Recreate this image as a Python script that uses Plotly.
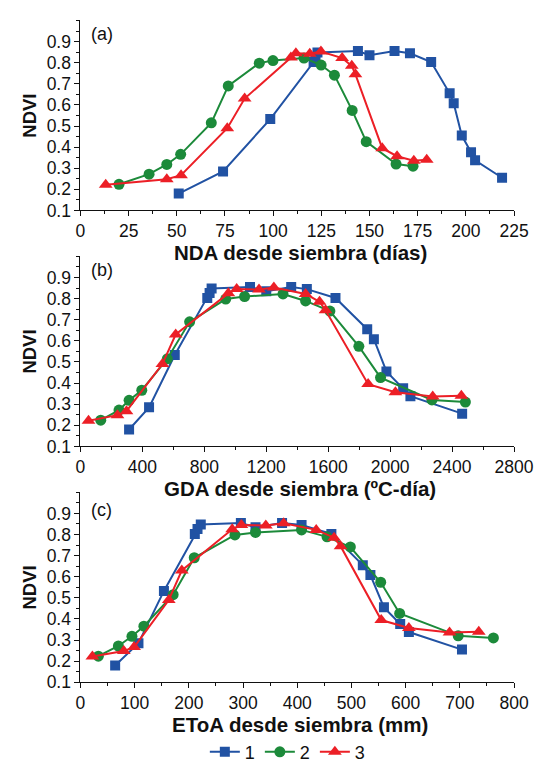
import plotly.graph_objects as go

W, H = 547, 763

# ---------------- data ----------------
series_names = ["1", "2", "3"]
ndvi_1 = [0.18, 0.285, 0.533, 0.803, 0.826, 0.848, 0.855, 0.835, 0.855, 0.845, 0.803, 0.655, 0.608, 0.455, 0.376, 0.338, 0.255]
ndvi_2 = [0.224, 0.272, 0.318, 0.366, 0.515, 0.69, 0.798, 0.81, 0.822, 0.789, 0.741, 0.574, 0.426, 0.32, 0.31]
ndvi_3 = [0.222, 0.248, 0.267, 0.49, 0.63, 0.825, 0.845, 0.843, 0.853, 0.822, 0.785, 0.745, 0.395, 0.357, 0.336, 0.34]

nda_1 = [51, 74, 98.5, 121, 122, 123, 144, 150, 163, 171, 182, 191.6, 193.7, 197.9, 202.7, 204.8, 218.8]
nda_2 = [20, 35.6, 44.8, 52, 67.9, 76.7, 92.8, 99.9, 116, 124.9, 131.8, 141, 148.3, 163.8, 172.6]
nda_3 = [13.1, 44.8, 52.2, 76.2, 85.2, 109.2, 111.8, 119, 124.8, 135.8, 140.8, 142.7, 156.6, 164.3, 173, 179.7]

gda_1 = [314, 443, 609, 819, 834, 847, 1095, 1200, 1361, 1462, 1647, 1852, 1895, 1976, 2084, 2131, 2465]
gda_2 = [131, 249, 314, 396, 561, 705, 938, 1060, 1308, 1454, 1611, 1798, 1938, 2270, 2486]
gda_3 = [52, 239, 297, 529, 615, 955, 1009, 1153, 1249, 1454, 1544, 1583, 1858, 2034, 2275, 2460]

eto_1 = [64, 107, 154, 211, 216, 222, 296, 323, 372, 408, 463, 521, 535, 560, 590, 606, 704]
eto_2 = [33, 70, 95, 117, 171, 210, 285, 323, 408, 455, 498, 554, 589, 697, 762]
eto_3 = [22, 80, 99, 163, 187, 280, 297, 342, 375, 435, 468, 480, 555, 606, 681, 735]

ndvi_ticks = [0.1, 0.2, 0.3, 0.4, 0.5, 0.6, 0.7, 0.8, 0.9]
nda_ticks = [0, 25, 50, 75, 100, 125, 150, 175, 200, 225]
gda_ticks = [0, 400, 800, 1200, 1600, 2000, 2400, 2800]
eto_ticks = [0, 100, 200, 300, 400, 500, 600, 700, 800]

x_titles = ["NDA desde siembra (días)", "GDA desde siembra (ºC-día)", "EToA desde siembra (mm)"]
panel_labels = ["(a)", "(b)", "(c)"]

# ---------------- style ----------------
colors = ["#2152a3", "#1c8a3a", "#ec1f26"]
symbols = ["square", "circle", "triangle-up"]
msizes = [10, 11, 12]
FONT = "Liberation Sans, Arial, sans-serif"

def fy(px):
    return 1 - px / H

def fx(px):
    return px / W

x_dom = [fx(70.7), fx(525)]
# (bottom px of 0.1, top px of 1.0)
y_px = [(206, 12.7), (446, 252.7), (686, 492.7)]

fig = go.Figure()

panels = [
    (nda_1, nda_2, nda_3, nda_ticks, 12.5),
    (gda_1, gda_2, gda_3, gda_ticks, 200),
    (eto_1, eto_2, eto_3, eto_ticks, 50),
]
ys = [ndvi_1, ndvi_2, ndvi_3]

for p, (xa, xb, xc, xt, minor_dt) in enumerate(panels):
    xs = [xa, xb, xc]
    suffix = "" if p == 0 else str(p + 1)
    for s in range(3):
        fig.add_trace(go.Scatter(
            x=xs[s], y=ys[s], mode="lines+markers",
            name=series_names[s],
            line=dict(color=colors[s], width=2),
            marker=dict(symbol=symbols[s], size=msizes[s], color=colors[s]),
            xaxis="x" + suffix, yaxis="y" + suffix,
            showlegend=(p == 2),
        ))
    bot, top = y_px[p]
    fig.layout["xaxis" + suffix] = dict(
        domain=x_dom, anchor="y" + suffix, range=[xt[0], xt[-1]],
        tickvals=xt, ticktext=[str(v) for v in xt],
        showline=True, linecolor="#111", linewidth=1, mirror=False,
        ticks="outside", ticklen=5, tickwidth=1, tickcolor="#111",
        minor=dict(ticks="outside", ticklen=3, dtick=minor_dt, tick0=0, tickcolor="#111"),
        showgrid=False, zeroline=False,
        tickfont=dict(family=FONT, size=17.5, color="#111"),
    )
    fig.layout["yaxis" + suffix] = dict(
        domain=[fy(bot), fy(top)], anchor="x" + suffix, range=[0.1, 1.0],
        tickvals=ndvi_ticks, ticktext=["%.1f" % v for v in ndvi_ticks],
        showline=True, linecolor="#111", linewidth=1,
        ticks="outside", ticklen=5, tickwidth=1, tickcolor="#111",
        minor=dict(ticks="outside", ticklen=3, dtick=0.05, tick0=0.1, tickcolor="#111"),
        showgrid=False, zeroline=False,
        tickfont=dict(family=FONT, size=17.5, color="#111"),
    )
    # axis title (x)
    fig.add_annotation(
        text="<b>%s</b>" % x_titles[p], xref="paper", yref="paper",
        x=fx(301), y=fy(bot + 43), xanchor="center", yanchor="middle",
        showarrow=False, font=dict(family=FONT, size=20.5, color="#111"),
    )
    # axis title (y)
    fig.add_annotation(
        text="<b>NDVI</b>", xref="paper", yref="paper",
        x=fx(17), y=fy((bot + top) / 2), xanchor="center", yanchor="middle",
        textangle=-90, showarrow=False, font=dict(family=FONT, size=18.5, color="#111"),
    )
    # panel label
    fig.add_annotation(
        text=panel_labels[p], xref="paper", yref="y" + suffix,
        x=fx(80), y=[0.935, 0.935, 0.915][p], xanchor="left", yanchor="middle",
        showarrow=False, font=dict(family=FONT, size=18, color="#111"),
    )

fig.update_layout(
    width=W, height=H,
    margin=dict(l=0, r=0, t=0, b=0),
    paper_bgcolor="white", plot_bgcolor="white",
    showlegend=True,
    legend=dict(
        orientation="h", x=fx(288), xanchor="center", y=fy(757), yanchor="middle",
        font=dict(family=FONT, size=18, color="#111"),
        bgcolor="rgba(0,0,0,0)", itemwidth=30, tracegroupgap=0,
    ),
)

fig.write_html("out.html")
